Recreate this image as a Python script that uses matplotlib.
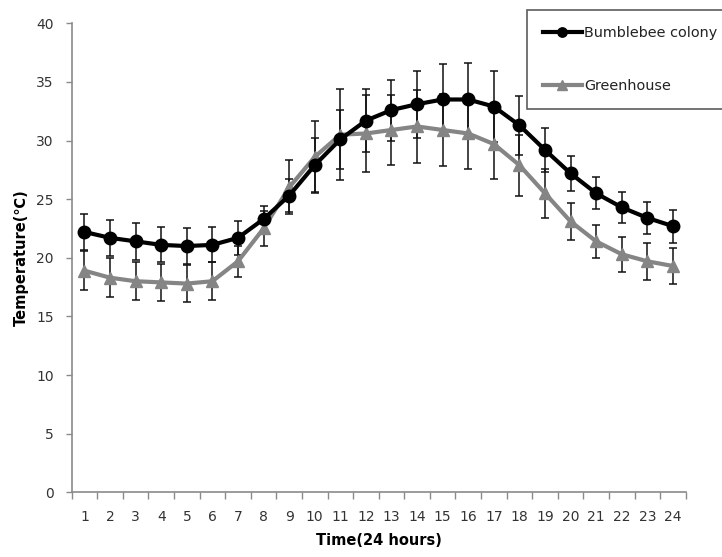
import matplotlib
matplotlib.use('Agg')
import matplotlib.pyplot as plt
from matplotlib.ticker import FixedLocator, NullFormatter
import numpy as np

plt.rcParams['font.family'] = ['DejaVu Sans', 'Noto Sans CJK SC']

# hourly means and error bars
hours = list(range(1, 25))
bee = [22.2, 21.7, 21.4, 21.1, 21.0, 21.1, 21.7, 23.3, 25.3, 27.9, 30.1, 31.7,
       32.6, 33.1, 33.5, 33.5, 32.9, 31.3, 29.2, 27.2, 25.5, 24.3, 23.4, 22.7]
bee_err = [1.55, 1.55, 1.6, 1.5, 1.55, 1.5, 1.45, 1.1, 1.4, 2.3, 2.5, 2.7,
           2.6, 2.85, 3.0, 3.1, 3.0, 2.5, 1.9, 1.5, 1.35, 1.3, 1.35, 1.4]
green = [18.9, 18.3, 18.0, 17.9, 17.8, 18.0, 19.7, 22.5, 26.0, 28.6, 30.5, 30.6,
         30.9, 31.2, 30.9, 30.6, 29.7, 27.9, 25.5, 23.1, 21.4, 20.3, 19.7, 19.3]
green_err = [1.65, 1.65, 1.6, 1.6, 1.6, 1.6, 1.3, 1.5, 2.3, 3.1, 3.9, 3.25,
             3.0, 3.1, 3.1, 3.0, 2.95, 2.6, 2.1, 1.6, 1.4, 1.5, 1.6, 1.55]
y_ticks = [0, 5, 10, 15, 20, 25, 30, 35, 40]

gray = '#858585'
axis_gray = '#8a8a8a'

fig = plt.figure(figsize=(7.22, 5.57), dpi=100)
ax = fig.add_axes([0.0993, 0.1162, 0.8504, 0.842])

# error bars first, markers sit on top
ax.errorbar(hours, bee, yerr=bee_err, fmt='none', ecolor='#111', elinewidth=1.1,
            capsize=3, capthick=1.1, zorder=2)
ax.errorbar(hours, green, yerr=green_err, fmt='none', ecolor='#111', elinewidth=1.1,
            capsize=3, capthick=1.1, zorder=2)
ax.plot(hours, bee, color='black', lw=3, marker='o', ms=9, label='Bumblebee colony', zorder=4)
ax.plot(hours, green, color=gray, lw=3, marker='^', ms=9, label='Greenhouse', zorder=3)

ax.set_xlim(0.5, 24.5)
ax.set_ylim(0, 40)
ax.set_yticks(y_ticks)
ax.set_xticks(hours)
ax.xaxis.set_minor_locator(FixedLocator(np.arange(0.5, 25, 1)))
ax.xaxis.set_minor_formatter(NullFormatter())
ax.tick_params(axis='x', which='major', length=0, pad=13, labelsize=10, labelcolor='#333')
ax.tick_params(axis='x', which='minor', length=5, width=1, color=axis_gray, direction='out')
ax.tick_params(axis='y', length=4, width=1, color=axis_gray, pad=9, labelsize=10, labelcolor='#333')

for s in ['top', 'right']:
    ax.spines[s].set_visible(False)
for s in ['left', 'bottom']:
    ax.spines[s].set_color(axis_gray)
    ax.spines[s].set_linewidth(1.2)

ax.set_xlabel('Time(24 hours)', fontsize=10.5, fontweight='bold', labelpad=6)
ax.set_ylabel('Temperature(℃)', fontsize=10.5, fontweight='bold', labelpad=6)
ax.yaxis.set_label_coords(-0.07, 0.5)

leg = fig.legend(loc='upper left', bbox_to_anchor=(527 / 722, 1 - 10 / 557),
                 fontsize=10.4, frameon=True, fancybox=False, borderpad=1.1,
                 labelspacing=2.7, handlelength=2.7, handletextpad=0.15,
                 borderaxespad=0, markerscale=0.75)
leg.get_frame().set_edgecolor('#333')
leg.get_frame().set_linewidth(1.2)
for t in leg.get_texts():
    t.set_color('#222')

plt.savefig('out.png', dpi=100)
